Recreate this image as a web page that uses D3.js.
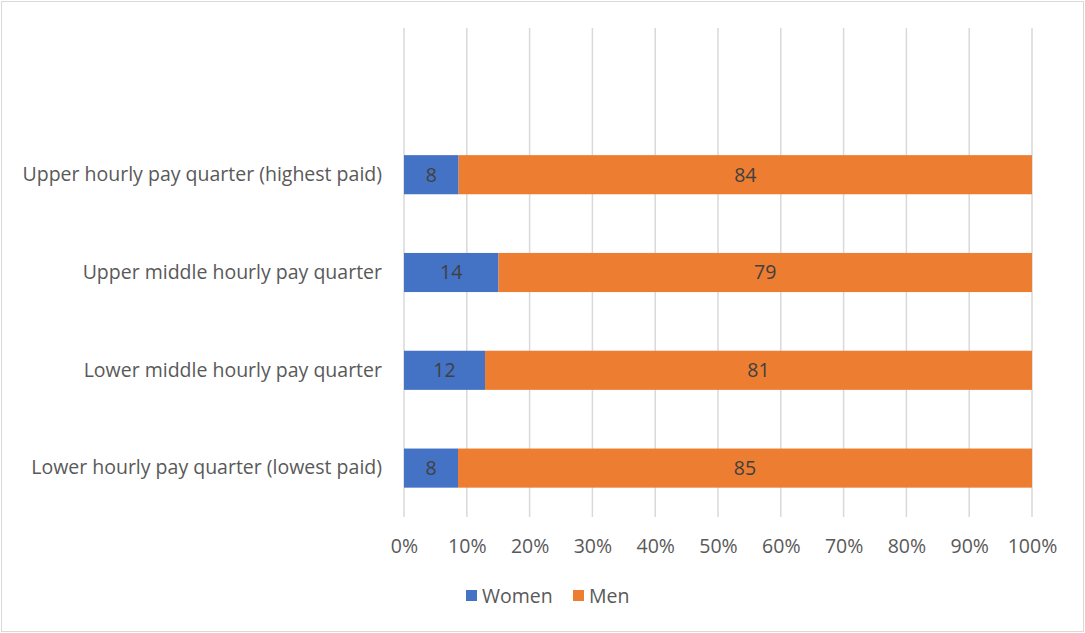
<!DOCTYPE html>
<html>
<head>
<meta charset="utf-8">
<script src="https://cdn.jsdelivr.net/npm/d3@7"></script>
<style>
  body { margin: 0; background: #fff; }
  svg text { font-family: "Open Sans", Lato, sans-serif; }
</style>
</head>
<body>
<div id="chart"></div>
<script>
// data
var categories = ['Upper hourly pay quarter (highest paid)',
  'Upper middle hourly pay quarter',
  'Lower middle hourly pay quarter',
  'Lower hourly pay quarter (lowest paid)'];
var women = [8, 14, 12, 8];
var men = [84, 79, 81, 85];
var tickValues = [0, 0.1, 0.2, 0.3, 0.4, 0.5, 0.6, 0.7, 0.8, 0.9, 1];
var seriesNames = ['Women', 'Men'];
var colors = ['#4472C4', '#ED7D31'];

var W = 1085, H = 633;
var plotLeft = 404, plotRight = 1032, plotTop = 28, plotBottom = 517;
var fontSize = '19.5px';

var svg = d3.select('#chart')
  .append('svg')
  .attr('width', W)
  .attr('height', H);

// outer frame
svg.append('rect')
  .attr('x', 1.5).attr('y', 1.5)
  .attr('width', W - 3).attr('height', H - 3)
  .style('fill', 'white')
  .style('stroke', '#D9D9D9');

var scaleX = d3.scaleLinear()
  .domain([0, 1])
  .range([plotLeft, plotRight]);

// the top fifth of the plot area is empty in the original
var step = (plotBottom - plotTop) / 5;
var scaleY = d3.scaleBand()
  .domain(categories)
  .range([plotTop + step, plotBottom])
  .paddingInner(0.6)
  .paddingOuter(0.3);

// gridlines
svg.append('g')
  .selectAll('line')
  .data(tickValues)
  .enter()
  .append('line')
  .attr('x1', function(d){ return scaleX(d); })
  .attr('x2', function(d){ return scaleX(d); })
  .attr('y1', plotTop)
  .attr('y2', plotBottom)
  .style('stroke', '#D9D9D9')
  .style('stroke-width', 1.5);

// x tick labels
var xAxis = d3.axisBottom(scaleX)
  .tickValues(tickValues)
  .tickFormat(d3.format('.0%'))
  .tickSize(0)
  .tickPadding(22);
var gx = svg.append('g')
  .attr('transform', 'translate(0,' + plotBottom + ')')
  .call(xAxis);
gx.select('.domain').remove();
gx.selectAll('text')
  .style('font-size', fontSize)
  .style('fill', '#595959');

// y category labels
var yAxis = d3.axisLeft(scaleY).tickSize(0).tickPadding(22);
var gy = svg.append('g')
  .attr('transform', 'translate(' + plotLeft + ',0)')
  .call(yAxis);
gy.select('.domain').remove();
gy.selectAll('text')
  .style('font-size', fontSize)
  .style('fill', '#595959');

// stacked to 100%
var rows = categories.map(function(c, i){
  return { cat: c, Women: women[i], Men: men[i] };
});
var stack = d3.stack().keys(seriesNames).offset(d3.stackOffsetExpand);
var layers = stack(rows);

var layer = svg.append('g')
  .selectAll('g')
  .data(layers)
  .enter()
  .append('g')
  .style('fill', function(d, i){ return colors[i]; });

layer.selectAll('rect')
  .data(function(d){ return d; })
  .enter()
  .append('rect')
  .attr('x', function(d){ return scaleX(d[0]); })
  .attr('width', function(d){ return scaleX(d[1]) - scaleX(d[0]); })
  .attr('y', function(d){ return scaleY(d.data.cat); })
  .attr('height', scaleY.bandwidth());

layer.selectAll('text')
  .data(function(d){ return d.map(function(p){ p.key = d.key; return p; }); })
  .enter()
  .append('text')
  .attr('x', function(d){ return (scaleX(d[0]) + scaleX(d[1])) / 2; })
  .attr('y', function(d){ return scaleY(d.data.cat) + scaleY.bandwidth() / 2; })
  .attr('dy', '0.35em')
  .attr('text-anchor', 'middle')
  .style('font-size', fontSize)
  .style('fill', '#404040')
  .text(function(d){ return d.data[d.key]; });

// legend
var legendX = [466, 573];
var legend = svg.append('g')
  .selectAll('g')
  .data(seriesNames)
  .enter()
  .append('g')
  .attr('transform', function(d, i){ return 'translate(' + legendX[i] + ',590)'; });
legend.append('rect')
  .attr('width', 11).attr('height', 11)
  .style('fill', function(d, i){ return colors[i]; });
legend.append('text')
  .attr('x', 16).attr('y', 6)
  .attr('dy', '0.35em')
  .style('font-size', fontSize)
  .style('fill', '#595959')
  .text(function(d){ return d; });
</script>
</body>
</html>
